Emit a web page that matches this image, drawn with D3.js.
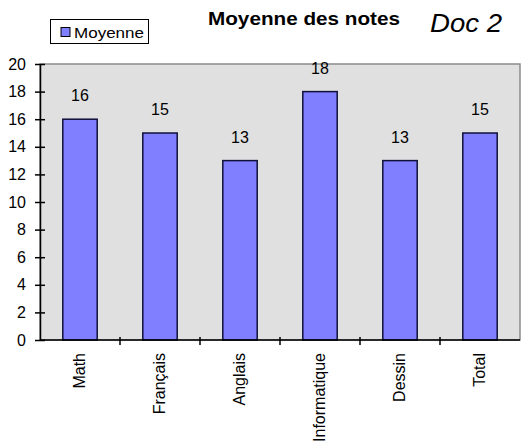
<!DOCTYPE html>
<html>
<head>
<meta charset="utf-8">
<script src="https://d3js.org/d3.v7.min.js"></script>
<style>
body { margin: 0; background: #fff; }
text { font-family: "Liberation Sans", Arial, sans-serif; }
</style>
</head>
<body>
<script>
// Chart data
var categories = ['Math', 'Français', 'Anglais', 'Informatique', 'Dessin', 'Total'];
var moyennes = [16, 15, 13, 18, 13, 15];
var yTicks = [0, 2, 4, 6, 8, 10, 12, 14, 16, 18, 20];

var W = 525, H = 445;
var plot = { left: 40, right: 520, top: 64, bottom: 340 };

var svg = d3.select('body').append('svg')
	.attr('width', W)
	.attr('height', H);

var x = d3.scaleBand()
	.domain(categories)
	.range([plot.left, plot.right])
	.padding(0);
var y = d3.scaleLinear().domain([0, 20]).range([plot.bottom, plot.top]);

var barW = x.bandwidth() * 0.43;

// plot area background
svg.append('rect')
	.attr('x', plot.left)
	.attr('y', plot.top)
	.attr('width', plot.right - plot.left)
	.attr('height', plot.bottom - plot.top)
	.attr('fill', '#e0e0e0')
	.attr('stroke', '#8c8c8c')
	.attr('stroke-width', 1.5);

// bars
svg.selectAll('rect.bar')
	.data(moyennes)
	.enter()
	.append('rect')
	.attr('class', 'bar')
	.attr('x', (d, i) => x(categories[i]) + (x.bandwidth() - barW) / 2)
	.attr('y', d => y(d))
	.attr('width', barW)
	.attr('height', d => y(0) - y(d))
	.attr('fill', '#7f7fff')
	.attr('stroke', '#10103a')
	.attr('stroke-width', 1.5);

// value labels
svg.selectAll('text.val')
	.data(moyennes)
	.enter()
	.append('text')
	.attr('class', 'val')
	.attr('x', (d, i) => x(categories[i]) + x.bandwidth() / 2)
	.attr('y', d => y(d) - 18)
	.attr('text-anchor', 'middle')
	.style('font-size', '16px')
	.text(d => d);

// y axis
var yAxis = svg.append('g')
	.attr('transform', 'translate(' + plot.left + ',0)')
	.call(d3.axisLeft(y).tickValues(yTicks).tickSize(5).tickSizeOuter(0));
yAxis.select('.domain').attr('stroke', '#000').attr('stroke-width', 1.5);
yAxis.selectAll('.tick line').attr('x2', 5).attr('x1', -5).attr('stroke-width', 1.5);
yAxis.selectAll('.tick text')
	.attr('x', -14)
	.style('font-size', '16px')
	.style('font-family', '"Liberation Sans", Arial, sans-serif');

// x axis
var boundaries = categories.slice(1);
svg.append('line')
	.attr('x1', plot.left).attr('x2', plot.right)
	.attr('y1', y(0)).attr('y2', y(0))
	.attr('stroke', '#000').attr('stroke-width', 1.5);
svg.selectAll('line.xtick')
	.data(boundaries)
	.enter()
	.append('line')
	.attr('class', 'xtick')
	.attr('x1', d => x(d)).attr('x2', d => x(d))
	.attr('y1', y(0) - 3).attr('y2', y(0) + 5)
	.attr('stroke', '#000').attr('stroke-width', 1.5);

svg.selectAll('text.xlab')
	.data(categories)
	.enter()
	.append('text')
	.attr('class', 'xlab')
	.attr('transform', d => 'translate(' + (x(d) + x.bandwidth() / 2 + 5) + ',' + (y(0) + 13) + ') rotate(-90)')
	.attr('text-anchor', 'end')
	.style('font-size', '16px')
	.text(d => d);

// title
svg.append('text')
	.attr('x', 208)
	.attr('y', 25)
	.attr('textLength', 192)
	.attr('lengthAdjust', 'spacingAndGlyphs')
	.style('font-size', '18px')
	.style('font-weight', 'bold')
	.text('Moyenne des notes');

svg.append('text')
	.attr('x', 430)
	.attr('y', 32)
	.attr('textLength', 72)
	.attr('lengthAdjust', 'spacingAndGlyphs')
	.style('font-size', '26px')
	.style('font-style', 'italic')
	.text('Doc 2');

// legend
var leg = svg.append('g');
leg.append('rect')
	.attr('x', 50.5).attr('y', 19.5)
	.attr('width', 98).attr('height', 24)
	.attr('fill', '#fff').attr('stroke', '#000');
leg.append('rect')
	.attr('x', 61).attr('y', 27.5)
	.attr('width', 9).attr('height', 9)
	.attr('fill', '#7f7fff').attr('stroke', '#000');
leg.append('text')
	.attr('x', 74).attr('y', 38)
	.attr('textLength', 70)
	.attr('lengthAdjust', 'spacingAndGlyphs')
	.style('font-size', '15px')
	.text('Moyenne');
</script>
</body>
</html>
